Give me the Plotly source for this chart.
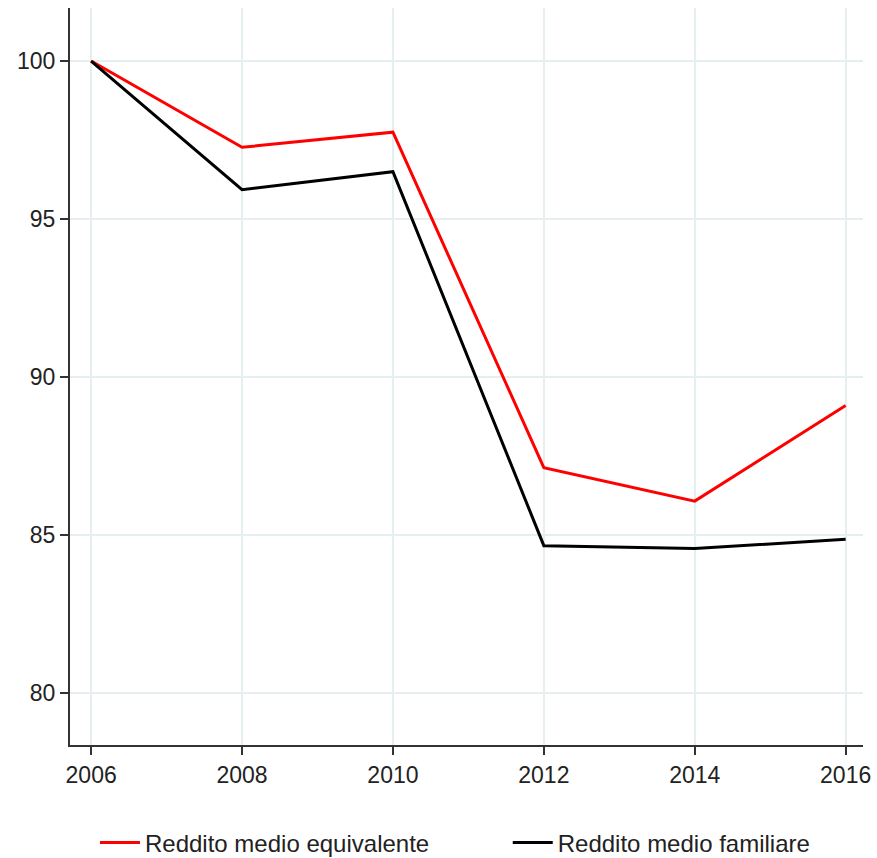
import plotly.graph_objects as go

years = [2006, 2008, 2010, 2012, 2014, 2016]
equivalente = [100.0, 97.27, 97.75, 87.13, 86.07, 89.1]
familiare = [100.0, 95.93, 96.5, 84.66, 84.57, 84.86]
y_ticks = [80, 85, 90, 95, 100]

fig = go.Figure()
fig.add_trace(go.Scatter(x=years, y=equivalente, mode="lines", name="Reddito medio equivalente",
                         line=dict(color="#ff0000", width=3), legend="legend"))
fig.add_trace(go.Scatter(x=years, y=familiare, mode="lines", name="Reddito medio familiare",
                         line=dict(color="#000000", width=3), legend="legend2"))

font = "Liberation Sans, Arial, sans-serif"
leg_common = dict(orientation="h", xanchor="left", y=-0.133, yanchor="middle",
                  font=dict(size=24, color="#222"), itemwidth=40, bgcolor="rgba(0,0,0,0)")
fig.update_layout(
    width=877, height=858,
    margin=dict(l=70, r=14, t=8, b=113, autoexpand=False),
    plot_bgcolor="white", paper_bgcolor="white",
    font=dict(family=font, size=23, color="#222"),
    showlegend=True,
    legend=dict(x=0.0315, **leg_common),
    legend2=dict(x=0.552, **leg_common),
    xaxis=dict(range=[2005.72, 2016.23], tickvals=years, showgrid=True, gridcolor="#e6eff0",
               gridwidth=1.5, showline=True, linecolor="#333", linewidth=2, ticks="outside",
               ticklen=8, tickcolor="#333", tickwidth=1.5, zeroline=False, automargin=False),
    yaxis=dict(range=[78.35, 101.68], tickvals=y_ticks, showgrid=True, gridcolor="#e6eff0",
               gridwidth=1.5, showline=True, linecolor="#333", linewidth=2, ticks="outside",
               ticklen=8, tickcolor="#333", tickwidth=1.5, zeroline=False, automargin=False),
)
fig.write_html("out.html", config={"displayModeBar": False},
               post_script="document.body.style.margin='0px';document.body.style.overflow='hidden';")
